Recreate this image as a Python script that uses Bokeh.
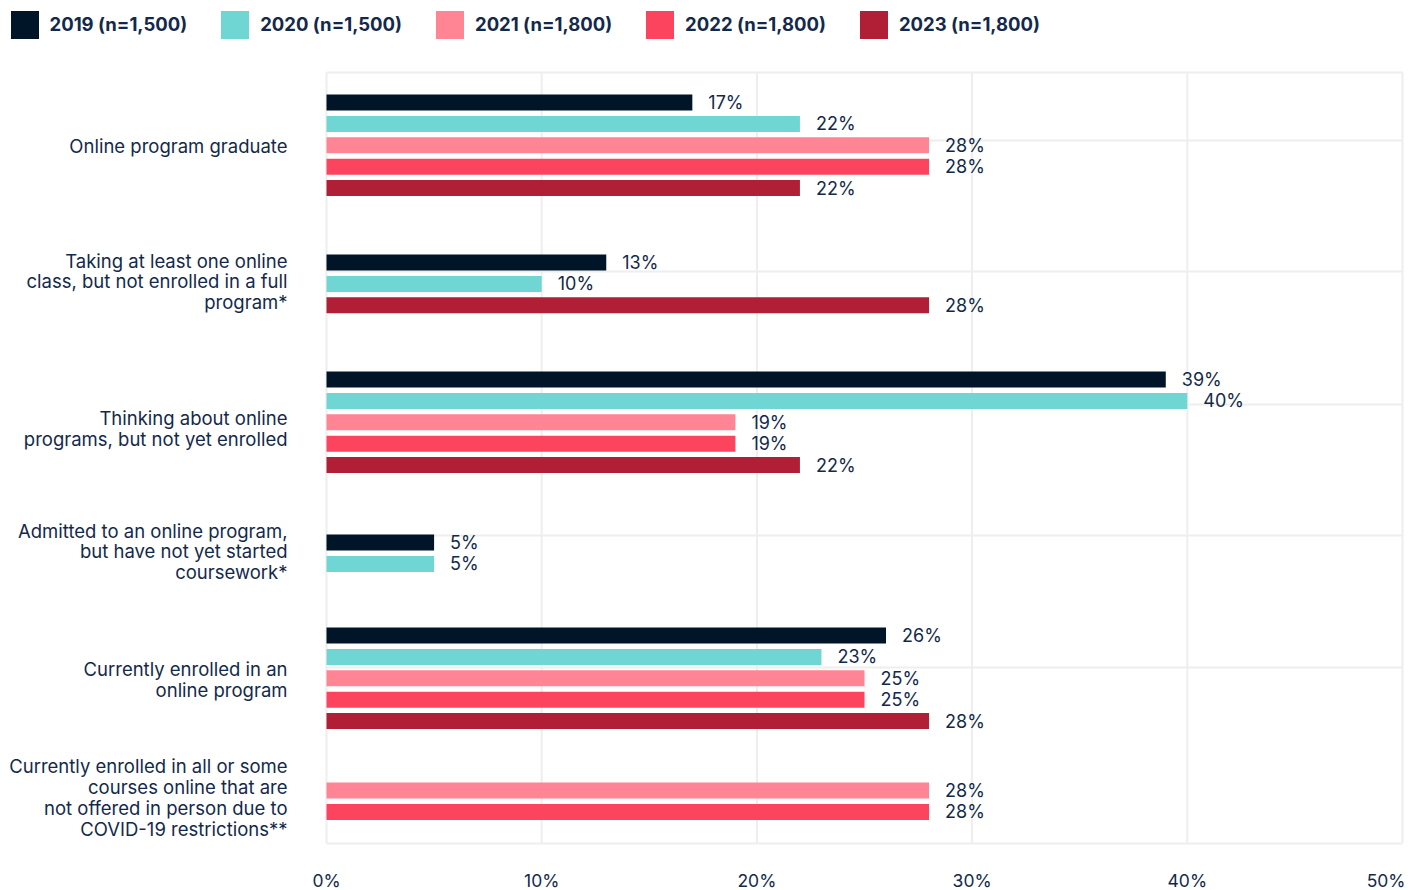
from bokeh.plotting import figure
from bokeh.models import ColumnDataSource, Range1d, Legend, LegendItem
from bokeh.core.properties import value
from bokeh.embed import file_html
from bokeh.resources import INLINE

# ---------------- data ----------------
categories = [
    "Online program graduate",
    "Taking at least one online\nclass, but not enrolled in a full\nprogram*",
    "Thinking about online\nprograms, but not yet enrolled",
    "Admitted to an online program,\nbut have not yet started\ncoursework*",
    "Currently enrolled in an\nonline program",
    "Currently enrolled in all or some\ncourses online that are\nnot offered in person due to\nCOVID-19 restrictions**",
]
series_names = ["2019 (n=1,500)", "2020 (n=1,500)", "2021 (n=1,800)", "2022 (n=1,800)", "2023 (n=1,800)"]
v2019 = [17, 13, 39, 5, 26, None]
v2020 = [22, 10, 40, 5, 23, None]
v2021 = [28, None, 19, None, 25, 28]
v2022 = [28, None, 19, None, 25, 28]
v2023 = [22, 28, 22, None, 28, None]
x_ticks = [0, 10, 20, 30, 40, 50]
x_tick_labels = ["0%", "10%", "20%", "30%", "40%", "50%"]

# ---------------- layout / style ----------------
W, H = 1419, 890
PLOT_L, PLOT_R, PLOT_T, PLOT_B = 326, 1402, 72, 843   # plot area in page pixels
colors = ["#011528", "#6fd6d4", "#ff8494", "#fd445e", "#b01f36"]
text_color = "#13294b"
grid_color = "#eeeeee"
FONT = "Inter"
group_first = [102, 262, 379, 542, 635, 790]   # y of first bar in each group (px)
bar_step = 21.4
bar_h = 16
label_centers = [145, 281, 428, 551, 679, 797]
hgrid = [PLOT_T, 140, 271, 404, 535, 667, PLOT_B]
tick_label_y = 880

all_series = [v2019, v2020, v2021, v2022, v2023]
xmax = x_ticks[-1]
px_per_unit = (PLOT_R - PLOT_L) / xmax

p = figure(width=W, height=H, output_backend="svg", toolbar_location=None,
           x_range=Range1d(-PLOT_L / px_per_unit, (W - PLOT_L) / px_per_unit),
           y_range=Range1d(H, 0), min_border=0)
p.axis.visible = False
p.grid.visible = False
p.outline_line_color = None
p.background_fill_color = "white"
p.border_fill_color = "white"

# grid lines
p.segment(x0=x_ticks, x1=x_ticks, y0=[PLOT_T] * len(x_ticks), y1=[PLOT_B] * len(x_ticks),
          line_color=grid_color, line_width=2)
p.segment(x0=[x_ticks[0]] * len(hgrid), x1=[xmax] * len(hgrid), y0=hgrid, y1=hgrid,
          line_color=grid_color, line_width=2)

# bars (missing series are skipped inside a group)
counts = [0] * len(categories)
renderers = []
for si, vals in enumerate(all_series):
    ys, xs, labs = [], [], []
    for ci, v in enumerate(vals):
        if v is None:
            continue
        y = group_first[ci] + counts[ci] * bar_step
        counts[ci] += 1
        ys.append(y)
        xs.append(v)
        labs.append(f"{v}%")
    src = ColumnDataSource(dict(y=ys, right=xs, lab=labs))
    r = p.hbar(y="y", left=0, right="right", height=bar_h, source=src,
               fill_color=colors[si], line_color=None)
    renderers.append(r)
    p.text(x="right", y="y", text="lab", source=src, x_offset=16,
           text_align="left", text_baseline="middle",
           text_font=value(FONT), text_font_size="18px", text_color=text_color)

# category labels
p.text(x=[0] * len(categories), y=label_centers, text=categories, x_offset=-39,
       text_align="right", text_baseline="middle", text_line_height=0.95,
       text_font=value(FONT), text_font_size="18.5px", text_color=text_color)

# x tick labels (last one right-aligned at the plot edge)
tick_src = ColumnDataSource(dict(x=x_ticks, lab=x_tick_labels,
                                 align=["center"] * (len(x_ticks) - 1) + ["right"],
                                 xo=[0] * (len(x_ticks) - 1) + [3]))
p.text(x="x", y=tick_label_y, text="lab", text_align="align", x_offset="xo", source=tick_src,
       text_baseline="middle", text_font=value(FONT), text_font_size="17.5px",
       text_color=text_color)

# legend
legend = Legend(items=[LegendItem(label=n, renderers=[r]) for n, r in zip(series_names, renderers)],
                orientation="horizontal", location=(6.5, H - 41.5),
                glyph_width=35, glyph_height=35, label_standoff=8, spacing=30,
                padding=0, margin=0, border_line_color=None, background_fill_alpha=0,
                label_text_font=FONT, label_text_font_size="18.5px", label_text_font_style="bold",
                label_text_color=text_color)
p.add_layout(legend, "center")

open("out.html", "w").write(file_html(p, INLINE))
